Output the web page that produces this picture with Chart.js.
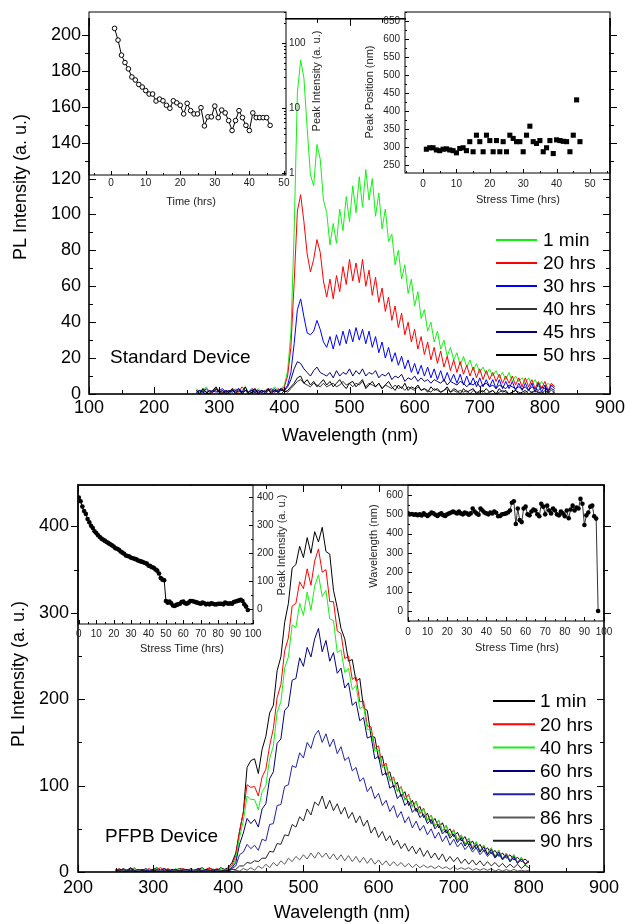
<!DOCTYPE html>
<html lang="en">
<head>
<meta charset="UTF-8" />
<title>PL spectra under electrical stress</title>
<script src="https://cdn.jsdelivr.net/npm/chart.js"></script>
<style>
  body { margin: 0; background: #fff; }
  #stage { position: relative; width: 629px; height: 924px; }
  #stage canvas { position: absolute; left: 0; top: 0; }
</style>
</head>
<body>
<div id="stage">
  <canvas id="stdMain" width="629" height="924"></canvas>
  <canvas id="pfpbMain" width="629" height="924"></canvas>
  <canvas id="stdIntensity" width="629" height="924"></canvas>
  <canvas id="stdPosition" width="629" height="924"></canvas>
  <canvas id="pfpbIntensity" width="629" height="924"></canvas>
  <canvas id="pfpbPosition" width="629" height="924"></canvas>
</div>
<script>
const FONT = "'Liberation Sans', Arial, Helvetica, sans-serif";

// ---------- standard device: PL spectra ----------
const wlStd = [
  265, 270, 275, 280, 285, 290, 295, 300, 305, 310,
  315, 320, 325, 330, 335, 340, 345, 350, 355, 360,
  365, 370, 375, 380, 385, 390, 395, 400, 405, 410,
  415, 420, 425, 430, 435, 440, 445, 450, 455, 460,
  465, 470, 475, 480, 485, 490, 495, 500, 505, 510,
  515, 520, 525, 530, 535, 540, 545, 550, 555, 560,
  565, 570, 575, 580, 585, 590, 595, 600, 605, 610,
  615, 620, 625, 630, 635, 640, 645, 650, 655, 660,
  665, 670, 675, 680, 685, 690, 695, 700, 705, 710,
  715, 720, 725, 730, 735, 740, 745, 750, 755, 760,
  765, 770, 775, 780, 785, 790, 795, 800, 805, 810,
  815
];
const std1min = [
  3, 1, 2, 4, 1, 2, 3, 1, 2, 1,
  2, 1, 3, 1, 2, 4, 1, 2, 1, 3,
  1, 2, 3, 2, 4, 2, 3, 5, 13, 34,
  90, 168, 186, 176, 148, 122, 116, 139, 131, 108,
  101, 83, 95, 84, 103, 91, 110, 96, 116, 101,
  121, 104, 125, 108, 120, 99, 112, 92, 103, 85,
  89, 72, 80, 64, 72, 56, 64, 49, 57, 42,
  47, 35, 40, 29, 35, 25, 30, 21, 26, 19,
  23, 16, 21, 15, 19, 13, 17, 12, 15, 11,
  14, 10, 13, 9, 12, 8, 12, 7, 10, 7,
  9, 6, 9, 5, 8, 4, 7, 4, 6, 4,
  5
];
const std20h = [
  2, 1, 3, 1, 2, 1, 3, 2, 1, 2,
  1, 3, 2, 1, 4, 2, 1, 2, 3, 1,
  2, 1, 3, 2, 1, 3, 2, 4, 10, 26,
  62, 102, 111, 96, 78, 68, 75, 86, 79, 63,
  54, 64, 53, 66, 57, 71, 61, 75, 63, 73,
  62, 75, 60, 69, 55, 65, 51, 59, 46, 54,
  41, 49, 37, 45, 33, 40, 29, 36, 25, 32,
  22, 29, 19, 26, 17, 24, 15, 21, 13, 19,
  12, 18, 11, 16, 10, 15, 9, 14, 8, 13,
  8, 12, 7, 11, 6, 10, 6, 10, 5, 9,
  4, 9, 4, 8, 3, 7, 3, 7, 2, 6,
  4
];
const std30h = [
  1, 2, 1, 3, 1, 2, 1, 2, 3, 1,
  2, 1, 2, 3, 1, 2, 1, 3, 2, 1,
  2, 1, 2, 3, 1, 2, 3, 2, 5, 12,
  28, 47, 53, 43, 34, 33, 35, 41, 36, 29,
  26, 32, 25, 33, 27, 35, 28, 36, 29, 37,
  30, 36, 28, 35, 26, 32, 23, 29, 20, 26,
  18, 23, 16, 21, 14, 19, 12, 17, 11, 16,
  10, 15, 9, 14, 8, 13, 7, 12, 7, 11,
  6, 11, 5, 10, 5, 9, 4, 9, 4, 8,
  4, 8, 3, 8, 3, 7, 3, 7, 2, 6,
  2, 6, 2, 6, 1, 6, 1, 5, 1, 5,
  3
];
const std40h = [
  1, 0, 2, 1, 0, 1, 2, 0, 1, 1,
  0, 2, 1, 0, 1, 2, 0, 1, 1, 0,
  1, 2, 0, 1, 2, 1, 0, 2, 1, 3,
  5, 7, 8, 6, 5, 4, 6, 5, 4, 6,
  4, 5, 6, 4, 5, 7, 5, 6, 4, 6,
  5, 7, 4, 6, 5, 4, 6, 3, 5, 4,
  3, 5, 3, 4, 2, 4, 3, 2, 4, 2,
  3, 2, 1, 3, 2, 1, 2, 3, 1, 2,
  1, 2, 1, 2, 0, 2, 1, 1, 2, 0,
  1, 2, 0, 1, 2, 1, 0, 1, 2, 1,
  0, 1, 2, 1, 0, 1, 1, 0, 1, 2,
  1
];
const std45h = [
  1, 2, 1, 0, 2, 1, 3, 1, 2, 0,
  1, 2, 1, 3, 0, 2, 1, 2, 1, 2,
  1, 0, 2, 1, 3, 1, 2, 2, 4, 8,
  14, 18, 17, 14, 12, 10, 13, 15, 12, 11,
  10, 12, 9, 13, 10, 12, 11, 14, 10, 13,
  11, 14, 10, 12, 11, 13, 9, 11, 10, 12,
  8, 10, 9, 11, 7, 9, 8, 10, 7, 9,
  7, 8, 6, 8, 7, 6, 8, 5, 7, 6,
  5, 7, 6, 4, 6, 5, 7, 4, 5, 6,
  4, 5, 3, 5, 4, 3, 5, 4, 3, 4,
  3, 4, 2, 4, 3, 2, 4, 3, 2, 3,
  2
];
const std50h = [
  2, 0, 3, 1, 0, 2, 4, 1, 0, 2,
  1, 3, 0, 2, 1, 4, 0, 1, 3, 0,
  2, 1, 3, 0, 2, 1, 3, 1, 2, 4,
  6, 9, 10, 6, 8, 5, 7, 4, 6, 8,
  5, 7, 4, 6, 8, 5, 3, 6, 7, 4,
  6, 8, 3, 5, 7, 4, 6, 3, 5, 7,
  4, 2, 5, 3, 6, 2, 4, 3, 5, 2,
  3, 1, 4, 2, 3, 1, 2, 4, 1, 3,
  2, 0, 3, 1, 2, 3, 0, 2, 1, 3,
  1, 2, 0, 3, 1, 2, 0, 1, 2, 0,
  1, 2, 0, 1, 2, 1, 0, 2, 1, 0,
  1
];
const stdLabels = ['1 min', '20 hrs', '30 hrs', '40 hrs', '45 hrs', '50 hrs'];
const stdColors = ['#14f014', '#ff0000', '#0000ff', '#333333', '#000080', '#000000'];
const stdXTicks = [100, 200, 300, 400, 500, 600, 700, 800, 900];
const stdYTicks = [0, 20, 40, 60, 80, 100, 120, 140, 160, 180, 200];

// standard device insets
const stdHours = [
  1, 2, 3, 4, 5, 6, 7, 8, 9, 10,
  11, 12, 13, 14, 15, 16, 17, 18, 19, 20,
  21, 22, 23, 24, 25, 26, 27, 28, 29, 30,
  31, 32, 33, 34, 35, 36, 37, 38, 39, 40,
  41, 42, 43, 44, 45, 46
];
const stdPeakIntensity = [
  168, 111, 65, 50, 40, 30, 27, 23, 21, 18.5,
  16.4, 16.4, 12.8, 13.7, 12.9, 11, 9.9, 12.9, 12, 11,
  8.1, 11.8, 9.1, 8.1, 8.1, 10.1, 5.3, 7.3, 7.3, 10.7,
  7.1, 9.3, 8.4, 6.4, 4.5, 6.4, 9.1, 7.1, 5.4, 4.5,
  8.4, 7.1, 7.1, 7.1, 7.1, 5.4
];
const stdPosHours = [
  1, 2, 3, 4, 5, 6, 7, 8, 9, 10,
  11, 12, 13, 14, 15, 16, 17, 18, 19, 20,
  21, 22, 23, 24, 25, 26, 27, 28, 29, 30,
  31, 32, 33, 34, 35, 36, 37, 38, 39, 40,
  41, 42, 43, 44, 45, 46, 47
];
const stdPeakPosition = [
  294, 298, 298, 292, 290, 294, 295, 292, 290, 284,
  296, 298, 290, 315, 287, 333, 315, 287, 333, 318,
  287, 318, 287, 315, 287, 333, 324, 315, 315, 287,
  333, 358, 315, 310, 318, 287, 298, 318, 282, 320,
  318, 316, 315, 287, 333, 431, 315
];
const stdHourTicks = [0, 10, 20, 30, 40, 50];
const stdIntensityTicks = [1, 10, 100];
const stdPositionTicks = [250, 300, 350, 400, 450, 500, 550, 600, 650];

// ---------- PFPB device: PL spectra ----------
const wlPfpb = [
  250, 255, 260, 265, 270, 275, 280, 285, 290, 295,
  300, 305, 310, 315, 320, 325, 330, 335, 340, 345,
  350, 355, 360, 365, 370, 375, 380, 385, 390, 395,
  400, 405, 410, 415, 420, 425, 430, 435, 440, 445,
  450, 455, 460, 465, 470, 475, 480, 485, 490, 495,
  500, 505, 510, 515, 520, 525, 530, 535, 540, 545,
  550, 555, 560, 565, 570, 575, 580, 585, 590, 595,
  600, 605, 610, 615, 620, 625, 630, 635, 640, 645,
  650, 655, 660, 665, 670, 675, 680, 685, 690, 695,
  700, 705, 710, 715, 720, 725, 730, 735, 740, 745,
  750, 755, 760, 765, 770, 775, 780, 785, 790, 795,
  800
];
const pfpb1min = [
  3, 1, 4, 2, 5, 2, 3, 1, 4, 2,
  3, 5, 2, 4, 1, 3, 2, 4, 3, 1,
  4, 2, 3, 5, 2, 4, 3, 2, 5, 3,
  5, 11, 22, 47, 69, 121, 129, 131, 114, 142,
  157, 184, 193, 233, 249, 289, 311, 352, 356, 377,
  364, 387, 369, 394, 382, 399, 371, 368, 326, 306,
  282, 270, 244, 246, 221, 224, 190, 187, 157, 156,
  131, 134, 112, 116, 98, 104, 87, 93, 77, 83,
  70, 76, 63, 68, 56, 62, 51, 57, 45, 50,
  41, 46, 36, 41, 31, 36, 27, 32, 24, 28,
  21, 25, 18, 22, 16, 20, 14, 17, 12, 15,
  11
];
const pfpb20h = [
  2, 4, 1, 3, 2, 5, 1, 3, 2, 4,
  1, 3, 5, 2, 4, 1, 3, 2, 4, 2,
  3, 1, 4, 2, 3, 5, 2, 4, 1, 3,
  3, 8, 19, 47, 69, 101, 98, 99, 88, 110,
  119, 146, 166, 202, 217, 256, 271, 308, 311, 336,
  328, 351, 332, 360, 374, 347, 350, 313, 313, 279,
  276, 247, 250, 223, 226, 197, 198, 169, 168, 143,
  146, 122, 126, 106, 110, 94, 99, 84, 90, 76,
  82, 68, 74, 60, 66, 53, 60, 47, 54, 42,
  49, 37, 43, 32, 39, 28, 35, 24, 31, 21,
  28, 18, 25, 15, 22, 13, 20, 11, 17, 9,
  13
];
const pfpb40h = [
  2, 1, 3, 1, 2, 4, 1, 2, 3, 1,
  2, 4, 1, 3, 2, 1, 4, 2, 3, 1,
  2, 3, 1, 4, 2, 3, 1, 2, 4, 2,
  2, 6, 15, 40, 59, 88, 84, 84, 72, 93,
  100, 131, 146, 185, 197, 236, 249, 286, 283, 311,
  297, 324, 303, 331, 344, 319, 326, 293, 291, 254,
  257, 231, 236, 211, 216, 189, 192, 165, 164, 140,
  141, 121, 123, 105, 108, 93, 98, 83, 89, 75,
  81, 67, 73, 59, 66, 53, 60, 47, 54, 41,
  48, 36, 43, 31, 39, 27, 35, 23, 31, 20,
  28, 17, 25, 14, 22, 12, 20, 10, 17, 8,
  12
];
const pfpb60h = [
  1, 3, 2, 1, 4, 2, 1, 3, 2, 1,
  3, 1, 2, 4, 1, 2, 3, 1, 2, 3,
  1, 2, 4, 1, 3, 2, 1, 3, 2, 1,
  2, 5, 11, 32, 45, 62, 56, 61, 52, 73,
  79, 108, 116, 149, 154, 187, 192, 222, 224, 248,
  238, 260, 249, 270, 282, 255, 268, 244, 254, 230,
  236, 213, 219, 193, 197, 175, 179, 155, 157, 131,
  134, 112, 115, 97, 100, 85, 90, 77, 82, 69,
  74, 63, 67, 56, 61, 50, 55, 44, 49, 39,
  44, 34, 40, 30, 36, 26, 32, 23, 29, 20,
  26, 17, 23, 15, 20, 12, 18, 10, 15, 9,
  12
];
const pfpb80h = [
  2, 1, 3, 1, 2, 1, 3, 2, 1, 2,
  1, 3, 1, 2, 3, 1, 2, 1, 3, 2,
  1, 2, 3, 1, 2, 1, 3, 2, 1, 2,
  1, 4, 7, 20, 23, 32, 27, 31, 25, 38,
  36, 55, 56, 77, 78, 99, 101, 123, 121, 138,
  132, 150, 143, 158, 164, 150, 160, 145, 154, 137,
  145, 129, 133, 117, 121, 105, 109, 93, 99, 85,
  91, 77, 83, 70, 77, 63, 70, 57, 64, 51,
  59, 48, 54, 43, 50, 39, 46, 35, 42, 31,
  38, 29, 34, 26, 31, 23, 28, 20, 25, 18,
  23, 16, 21, 14, 19, 12, 17, 10, 15, 9,
  12
];
const pfpb86h = [
  0, 1, 2, 0, 1, 0, 2, 1, 0, 1,
  1, 0, 2, 1, 0, 1, 2, 0, 1, 1,
  0, 2, 1, 0, 1, 2, 0, 1, 2, 0,
  1, 0, 2, 1, 4, 2, 5, 2, 7, 4,
  9, 5, 11, 7, 13, 9, 16, 12, 18, 14,
  20, 15, 22, 16, 23, 17, 22, 15, 21, 14,
  20, 13, 19, 12, 18, 11, 17, 10, 16, 9,
  14, 8, 13, 7, 12, 7, 11, 6, 10, 5,
  9, 5, 8, 5, 7, 4, 7, 4, 6, 3,
  6, 3, 5, 3, 5, 2, 4, 2, 4, 2,
  4, 1, 3, 1, 3, 1, 3, 1, 2, 1,
  2
];
const pfpb90h = [
  1, 2, 0, 1, 2, 1, 0, 2, 1, 0,
  2, 1, 0, 1, 2, 0, 1, 2, 1, 0,
  1, 0, 2, 1, 0, 2, 1, 0, 1, 2,
  1, 3, 3, 7, 7, 11, 10, 13, 12, 16,
  16, 24, 23, 33, 32, 43, 42, 55, 52, 64,
  59, 73, 66, 81, 77, 88, 73, 83, 71, 79,
  67, 75, 62, 69, 57, 65, 53, 60, 45, 52,
  40, 47, 36, 42, 31, 37, 27, 33, 24, 30,
  21, 28, 18, 25, 16, 22, 14, 21, 12, 18,
  12, 17, 10, 15, 9, 14, 8, 13, 7, 12,
  7, 11, 6, 10, 5, 9, 5, 9, 4, 8,
  5
];
const pfpbLabels = ['1 min', '20 hrs', '40 hrs', '60 hrs', '80 hrs', '86 hrs', '90 hrs'];
const pfpbColors = ['#000000', '#ff0000', '#14f014', '#000080', '#2222a8', '#5a5a5a', '#222222'];
const pfpbXTicks = [200, 300, 400, 500, 600, 700, 800, 900];
const pfpbYTicks = [0, 100, 200, 300, 400];

// PFPB device insets
const pfpbHours = [
  0, 1, 2, 3, 4, 5, 6, 7, 8, 9,
  10, 11, 12, 13, 14, 15, 16, 17, 18, 19,
  20, 21, 22, 23, 24, 25, 26, 27, 28, 29,
  30, 31, 32, 33, 34, 35, 36, 37, 38, 39,
  40, 41, 42, 43, 44, 45, 46, 47, 48, 49,
  50, 51, 52, 53, 54, 55, 56, 57, 58, 59,
  60, 61, 62, 63, 64, 65, 66, 67, 68, 69,
  70, 71, 72, 73, 74, 75, 76, 77, 78, 79,
  80, 81, 82, 83, 84, 85, 86, 87, 88, 89,
  90, 91, 92, 93, 94, 95, 96, 97
];
const pfpbPeakIntensity = [
  398, 385, 366, 350, 340, 322, 310, 298, 290, 278,
  272, 264, 258, 252, 248, 244, 240, 236, 232, 228,
  224, 218, 216, 212, 206, 202, 198, 192, 190, 188,
  184, 182, 180, 178, 174, 172, 170, 168, 165, 163,
  156, 154, 150, 148, 142, 138, 128, 112, 106, 104,
  30, 24, 28, 22, 14, 12, 16, 18, 20, 26,
  28, 22, 20, 24, 30, 30, 28, 26, 24, 22,
  20, 24, 22, 18, 20, 18, 22, 20, 18, 18,
  20, 20, 20, 18, 24, 22, 20, 22, 20, 26,
  28, 30, 32, 34, 30, 18, 10, -2
];
const pfpbPeakWavelength = [
  505, 500, 502, 498, 500, 496, 500, 494, 505, 498,
  492, 500, 510, 505, 498, 492, 500, 505, 496, 492,
  500, 505, 510, 515, 510, 505, 515, 505, 500, 510,
  505, 498, 505, 530, 515, 505, 498, 530, 520, 510,
  505, 500, 510, 505, 515, 508, 490, 492, 500, 502,
  505, 510, 520, 560, 568, 450, 530, 470, 460, 530,
  540, 500, 495, 515, 525, 520, 500, 490, 555, 540,
  500, 545, 520, 505, 530, 520, 500, 495, 515, 505,
  490, 520, 480, 525, 545, 520, 535, 530, 580, 555,
  445, 495, 510, 540, 545, 490, 478, 0
];
const pfpbHourTicks = [0, 10, 20, 30, 40, 50, 60, 70, 80, 90, 100];
const pfpbIntensityTicks = [0, 100, 200, 300, 400];
const pfpbWavelengthTicks = [0, 100, 200, 300, 400, 500, 600];

// ---------- helpers ----------
const PAGE_W = 629, PAGE_H = 924;

function pts(xs, ys) {
  return ys.map((y, i) => ({ x: xs[i], y: y }));
}

function axis(o) {
  return {
    type: o.type || 'linear',
    position: o.position,
    min: o.min,
    max: o.max,
    grid: { display: false, drawTicks: false },
    border: { display: false },
    ticks: {
      autoSkip: false,
      maxRotation: 0,
      padding: o.pad,
      color: o.color || '#000',
      font: { family: FONT, size: o.size },
      callback: (v) => String(v)
    },
    afterBuildTicks: (s) => { s.ticks = o.ticks.map((v) => ({ value: v })); },
    afterFit: (s) => { if (s.isHorizontal()) s.height = o.fit; else s.width = o.fit; }
  };
}

// padding that puts the plot area exactly on box
function padFor(box, xH, yW, yPos) {
  return {
    left: yPos === 'left' ? box.l - yW : box.l,
    right: yPos === 'right' ? PAGE_W - box.r - yW : PAGE_W - box.r,
    top: box.t,
    bottom: PAGE_H - box.b - xH
  };
}

function midMinors(majors, min, max) {
  const out = [];
  const step = majors[1] - majors[0];
  for (let v = majors[0] - step / 2; v <= max; v += step) {
    if (v >= min) out.push(v);
  }
  return out;
}

function logMinors(min, max) {
  const out = [];
  for (let e = -1; e <= 3; e++) {
    for (let m = 2; m <= 9; m++) {
      const v = m * Math.pow(10, e);
      if (v >= min && v <= max) out.push(v);
    }
  }
  return out;
}

// frame, inward tick marks, titles, notes and legend
function panel(cfg) {
  return {
    id: 'panel',
    beforeDraw(chart) {
      if (!cfg.whiteFill) return;
      const a = chart.chartArea, ctx = chart.ctx;
      ctx.save();
      ctx.fillStyle = '#fff';
      ctx.fillRect(a.left + 1, a.top + 1, a.right - a.left - 2, a.bottom - a.top - 2);
      ctx.restore();
    },
    afterDraw(chart) {
      const ctx = chart.ctx, a = chart.chartArea;
      ctx.save();
      ctx.strokeStyle = '#000';
      ctx.lineWidth = cfg.frameWidth;
      ctx.strokeRect(a.left, a.top, a.right - a.left, a.bottom - a.top);

      ctx.lineWidth = 1;
      ['x', 'y'].forEach((id) => {
        const s = chart.scales[id];
        const spec = cfg.marks[id];
        const majors = s.ticks.map((t) => t.value);
        const minors = s.type === 'logarithmic' ? logMinors(s.min, s.max) : midMinors(majors, s.min, s.max);
        const marks = majors.map((v) => [v, spec.major]).concat(minors.map((v) => [v, spec.minor]));
        ctx.beginPath();
        marks.forEach(([v, len]) => {
          const p = Math.round(s.getPixelForValue(v)) + 0.5;
          if (id === 'x') {
            if (p < a.left - 1 || p > a.right + 1) return;
            if (spec.sides.includes('bottom')) { ctx.moveTo(p, a.bottom); ctx.lineTo(p, a.bottom - len); }
            if (spec.sides.includes('top')) { ctx.moveTo(p, a.top); ctx.lineTo(p, a.top + len); }
          } else {
            if (p < a.top - 1 || p > a.bottom + 1) return;
            const out = spec.outAbove && p < spec.outAbove;
            if (spec.sides.includes('left')) {
              ctx.moveTo(a.left, p); ctx.lineTo(a.left + len, p);
              if (out) { ctx.moveTo(a.left, p); ctx.lineTo(a.left - len, p); }
            }
            if (spec.sides.includes('right')) {
              ctx.moveTo(a.right, p); ctx.lineTo(a.right - len, p);
              if (out) { ctx.moveTo(a.right, p); ctx.lineTo(a.right + len, p); }
            }
          }
        });
        ctx.stroke();
      });

      ctx.textAlign = 'center';
      ctx.textBaseline = 'middle';
      (cfg.texts || []).forEach((t) => {
        ctx.save();
        ctx.fillStyle = t.color || '#000';
        ctx.font = t.size + 'px ' + FONT;
        ctx.translate(t.x, t.y);
        if (t.rot) ctx.rotate(t.rot);
        ctx.textAlign = t.align || 'center';
        ctx.fillText(t.text, 0, 0);
        ctx.restore();
      });

      if (cfg.legend) {
        const L = cfg.legend;
        ctx.font = L.size + 'px ' + FONT;
        ctx.textAlign = 'left';
        chart.data.datasets.forEach((ds, i) => {
          const y = L.y + i * L.dy;
          ctx.strokeStyle = ds.borderColor;
          ctx.lineWidth = L.lineWidth;
          ctx.beginPath();
          ctx.moveTo(L.x0, y);
          ctx.lineTo(L.x1, y);
          ctx.stroke();
          ctx.fillStyle = '#000';
          ctx.fillText(ds.label, L.tx, y + 1);
        });
      }
      ctx.restore();
    }
  };
}

function baseOptions(padding, scales) {
  return {
    responsive: false,
    animation: false,
    devicePixelRatio: 1,
    events: [],
    layout: { padding: padding },
    plugins: { legend: { display: false }, tooltip: { enabled: false } },
    scales: scales
  };
}

function spectra(xs, series, labels, colors) {
  const n = series.length;
  return series.map((ys, i) => ({
    label: labels[i],
    data: pts(xs, ys),
    borderColor: colors[i],
    borderWidth: 1,
    pointRadius: 0,
    tension: 0,
    order: n - i
  }));
}

// ---------- standard device main plot ----------
const stdBox = { l: 89, t: 12, r: 610, b: 394 };
new Chart(document.getElementById('stdMain'), {
  type: 'line',
  data: { datasets: spectra(wlStd, [std1min, std20h, std30h, std40h, std45h, std50h], stdLabels, stdColors) },
  options: baseOptions(padFor(stdBox, 30, 78, 'left'), {
    x: axis({ position: 'bottom', min: 100, max: 900, ticks: stdXTicks, size: 18, pad: 3, fit: 30 }),
    y: axis({ position: 'left', min: 0, max: 209, ticks: stdYTicks, size: 18, pad: 8, fit: 78 })
  }),
  plugins: [panel({
    frameWidth: 1.6,
    marks: {
      x: { sides: ['bottom', 'top'], major: 7, minor: 4 },
      y: { sides: ['left', 'right'], major: 7, minor: 4, outAbove: 176 }
    },
    texts: [
      { text: 'PL Intensity (a. u.)', x: 21, y: 187, size: 18, rot: -Math.PI / 2 },
      { text: 'Wavelength (nm)', x: 350, y: 436, size: 18 },
      { text: 'Standard Device', x: 110, y: 358, size: 19, align: 'left' }
    ],
    legend: { x0: 496, x1: 537, tx: 543, y: 240, dy: 23, size: 19, lineWidth: 2 }
  })]
});

// ---------- PFPB device main plot ----------
const pfpbBox = { l: 78, t: 485, r: 604, b: 872 };
new Chart(document.getElementById('pfpbMain'), {
  type: 'line',
  data: { datasets: spectra(wlPfpb, [pfpb1min, pfpb20h, pfpb40h, pfpb60h, pfpb80h, pfpb86h, pfpb90h], pfpbLabels, pfpbColors) },
  options: baseOptions(padFor(pfpbBox, 30, 70, 'left'), {
    x: axis({ position: 'bottom', min: 200, max: 900, ticks: pfpbXTicks, size: 18, pad: 5, fit: 30 }),
    y: axis({ position: 'left', min: 0, max: 448, ticks: pfpbYTicks, size: 18, pad: 9, fit: 70 })
  }),
  plugins: [panel({
    frameWidth: 1.6,
    marks: {
      x: { sides: ['bottom', 'top'], major: 7, minor: 4 },
      y: { sides: ['left', 'right'], major: 7, minor: 4, outAbove: 625 }
    },
    texts: [
      { text: 'PL Intensity (a. u.)', x: 19, y: 674, size: 18, rot: -Math.PI / 2 },
      { text: 'Wavelength (nm)', x: 342, y: 913, size: 18 },
      { text: 'PFPB Device', x: 105, y: 837, size: 19, align: 'left' }
    ],
    legend: { x0: 493, x1: 535, tx: 540, y: 701, dy: 23.3, size: 19, lineWidth: 2 }
  })]
});

// ---------- standard device: peak intensity vs time (log) ----------
const tlBox = { l: 89, t: 12, r: 286, b: 175 };
new Chart(document.getElementById('stdIntensity'), {
  type: 'line',
  data: {
    datasets: [{
      data: pts(stdHours, stdPeakIntensity),
      borderColor: '#000',
      borderWidth: 1,
      pointRadius: 2.3,
      pointBorderWidth: 1,
      pointBackgroundColor: '#fff',
      pointBorderColor: '#000',
      tension: 0
    }]
  },
  options: baseOptions(padFor(tlBox, 20, 30, 'right'), {
    x: axis({ position: 'bottom', min: -6.4, max: 50.6, ticks: stdHourTicks, size: 10, pad: 2, fit: 20, color: '#222' }),
    y: axis({ type: 'logarithmic', position: 'right', min: 0.93, max: 300, ticks: stdIntensityTicks, size: 10, pad: 3, fit: 30, color: '#222' })
  }),
  plugins: [panel({
    whiteFill: true,
    frameWidth: 1,
    marks: {
      x: { sides: ['bottom'], major: 4, minor: 2 },
      y: { sides: ['right'], major: 4, minor: 2 }
    },
    texts: [
      { text: 'Time (hrs)', x: 191, y: 202, size: 11, color: '#222' },
      { text: 'Peak Intensity (a. u.)', x: 317, y: 81, size: 11, rot: -Math.PI / 2, color: '#222' }
    ]
  })]
});

// ---------- standard device: peak position vs stress time ----------
const trBox = { l: 405, t: 12, r: 610, b: 173 };
new Chart(document.getElementById('stdPosition'), {
  type: 'line',
  data: {
    datasets: [{
      data: pts(stdPosHours, stdPeakPosition),
      showLine: false,
      pointStyle: 'rect',
      pointRadius: 3.6,
      pointBorderWidth: 0,
      pointBackgroundColor: '#000',
      borderColor: '#000'
    }]
  },
  options: baseOptions(padFor(trBox, 20, 35, 'left'), {
    x: axis({ position: 'bottom', min: -5.4, max: 56, ticks: stdHourTicks, size: 10, pad: 5, fit: 20, color: '#222' }),
    y: axis({ position: 'left', min: 228, max: 675, ticks: stdPositionTicks, size: 10, pad: 5, fit: 35, color: '#222' })
  }),
  plugins: [panel({
    whiteFill: true,
    frameWidth: 1,
    marks: {
      x: { sides: ['bottom'], major: 4, minor: 2 },
      y: { sides: ['left'], major: 4, minor: 2 }
    },
    texts: [
      { text: 'Stress Time (hrs)', x: 518, y: 200, size: 11, color: '#222' },
      { text: 'Peak Position (nm)', x: 370, y: 92, size: 11, rot: -Math.PI / 2, color: '#222' }
    ]
  })]
});

// ---------- PFPB device: peak intensity vs stress time ----------
const blBox = { l: 78, t: 485, r: 253, b: 624 };
new Chart(document.getElementById('pfpbIntensity'), {
  type: 'line',
  data: {
    datasets: [{
      data: pts(pfpbHours, pfpbPeakIntensity),
      borderColor: '#000',
      borderWidth: 1,
      pointRadius: 2.3,
      pointBorderWidth: 0,
      pointBackgroundColor: '#000',
      tension: 0
    }]
  },
  options: baseOptions(padFor(blBox, 20, 30, 'right'), {
    x: axis({ position: 'bottom', min: -0.5, max: 100, ticks: pfpbHourTicks, size: 10, pad: 4, fit: 20, color: '#222' }),
    y: axis({ position: 'right', min: -52, max: 443, ticks: pfpbIntensityTicks, size: 10, pad: 4, fit: 30, color: '#222' })
  }),
  plugins: [panel({
    whiteFill: true,
    frameWidth: 1,
    marks: {
      x: { sides: ['bottom'], major: 4, minor: 2 },
      y: { sides: ['right'], major: 4, minor: 2 }
    },
    texts: [
      { text: 'Stress Time (hrs)', x: 182, y: 649, size: 11, color: '#222' },
      { text: 'Peak Intensity (a. u.)', x: 282, y: 545, size: 11, rot: -Math.PI / 2, color: '#222' }
    ]
  })]
});

// ---------- PFPB device: peak wavelength vs stress time ----------
const brBox = { l: 408, t: 485, r: 604, b: 621 };
new Chart(document.getElementById('pfpbPosition'), {
  type: 'line',
  data: {
    datasets: [{
      data: pts(pfpbHours, pfpbPeakWavelength),
      borderColor: '#333',
      borderWidth: 1,
      pointRadius: 2.3,
      pointBorderWidth: 0,
      pointBackgroundColor: '#000',
      tension: 0
    }]
  },
  options: baseOptions(padFor(brBox, 20, 35, 'left'), {
    x: axis({ position: 'bottom', min: 0, max: 100, ticks: pfpbHourTicks, size: 10, pad: 5, fit: 20, color: '#222' }),
    y: axis({ position: 'left', min: -52, max: 652, ticks: pfpbWavelengthTicks, size: 10, pad: 5, fit: 35, color: '#222' })
  }),
  plugins: [panel({
    whiteFill: true,
    frameWidth: 1,
    marks: {
      x: { sides: ['bottom'], major: 4, minor: 2 },
      y: { sides: ['left'], major: 4, minor: 2 }
    },
    texts: [
      { text: 'Stress Time (hrs)', x: 517, y: 648, size: 11, color: '#222' },
      { text: 'Wavelength (nm)', x: 374, y: 546, size: 11, rot: -Math.PI / 2, color: '#222' }
    ]
  })]
});
</script>
</body>
</html>
